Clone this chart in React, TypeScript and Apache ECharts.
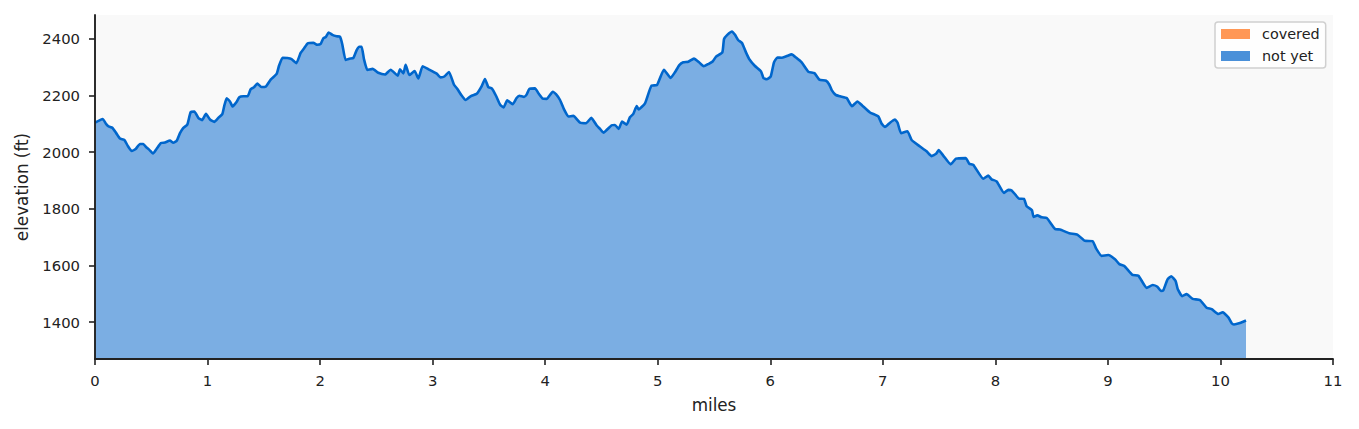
import { useEffect, useRef } from 'react'
import * as echarts from 'echarts'

const miles = [
  0, 0.068, 0.098, 0.121, 0.154, 0.187, 0.222, 0.261, 0.29, 0.326, 0.361, 0.4, 0.429, 0.453, 0.483, 0.515,
  0.548, 0.586, 0.622, 0.666, 0.696, 0.726, 0.755, 0.785, 0.82, 0.85, 0.883, 0.918, 0.951, 0.986, 1.022, 1.06,
  1.096, 1.131, 1.149, 1.17, 1.199, 1.223, 1.259, 1.282, 1.318, 1.356, 1.383, 1.413, 1.442, 1.478, 1.519, 1.561,
  1.614, 1.635, 1.667, 1.709, 1.747, 1.789, 1.827, 1.857, 1.89, 1.94, 1.975, 2.005, 2.029, 2.052, 2.076, 2.109,
  2.147, 2.177, 2.197, 2.227, 2.26, 2.295, 2.325, 2.349, 2.369, 2.39, 2.42, 2.467, 2.517, 2.577, 2.627, 2.689,
  2.71, 2.74, 2.76, 2.793, 2.84, 2.873, 2.911, 2.961, 3.036, 3.07, 3.104, 3.145, 3.19, 3.22, 3.252, 3.293,
  3.34, 3.392, 3.436, 3.465, 3.495, 3.525, 3.563, 3.6, 3.63, 3.663, 3.711, 3.746, 3.77, 3.812, 3.835, 3.859,
  3.909, 3.945, 3.978, 4.013, 4.067, 4.096, 4.132, 4.17, 4.206, 4.25, 4.31, 4.363, 4.41, 4.458, 4.487, 4.517,
  4.591, 4.62, 4.653, 4.683, 4.724, 4.753, 4.783, 4.813, 4.83, 4.887, 4.946, 4.991, 5.055, 5.115, 5.153, 5.192,
  5.227, 5.272, 5.322, 5.367, 5.408, 5.45, 5.488, 5.518, 5.574, 5.589, 5.618, 5.66, 5.687, 5.716, 5.749, 5.784,
  5.814, 5.864, 5.918, 5.939, 5.968, 6.004, 6.033, 6.063, 6.101, 6.146, 6.19, 6.229, 6.279, 6.338, 6.392, 6.436,
  6.496, 6.525, 6.546, 6.581, 6.62, 6.679, 6.726, 6.774, 6.818, 6.886, 6.96, 6.99, 7.019, 7.064, 7.108, 7.132,
  7.162, 7.218, 7.256, 7.33, 7.389, 7.434, 7.473, 7.496, 7.537, 7.603, 7.65, 7.736, 7.768, 7.804, 7.893, 7.937,
  7.967, 8.011, 8.077, 8.115, 8.145, 8.21, 8.254, 8.278, 8.325, 8.34, 8.373, 8.411, 8.456, 8.53, 8.574, 8.657,
  8.728, 8.796, 8.864, 8.894, 8.944, 9.004, 9.063, 9.102, 9.146, 9.217, 9.271, 9.345, 9.398, 9.44, 9.471, 9.492,
  9.53, 9.563, 9.602, 9.62, 9.66, 9.699, 9.753, 9.818, 9.877, 9.922, 9.981, 10.019, 10.07, 10.1, 10.12, 10.173,
  10.227,
]

const elevation = [
  2104, 2117, 2100, 2091, 2086, 2068, 2048, 2043, 2023, 2004, 2011, 2029, 2029, 2018, 2008, 1995,
  2012, 2032, 2034, 2041, 2033, 2040, 2067, 2086, 2097, 2141, 2143, 2121, 2113, 2135, 2115, 2107,
  2121, 2134, 2164, 2190, 2179, 2161, 2178, 2194, 2197, 2197, 2222, 2229, 2242, 2230, 2232, 2256,
  2276, 2305, 2333, 2332, 2328, 2314, 2350, 2366, 2384, 2386, 2379, 2382, 2402, 2407, 2422, 2414,
  2409, 2407, 2381, 2325, 2330, 2332, 2360, 2372, 2372, 2328, 2290, 2294, 2280, 2274, 2291, 2270,
  2292, 2278, 2308, 2272, 2286, 2260, 2303, 2293, 2277, 2264, 2267, 2283, 2238, 2223, 2203, 2184,
  2198, 2206, 2233, 2258, 2229, 2225, 2199, 2167, 2158, 2183, 2169, 2191, 2199, 2195, 2203, 2223,
  2225, 2205, 2189, 2188, 2213, 2205, 2184, 2149, 2126, 2128, 2104, 2102, 2121, 2094, 2082, 2069,
  2095, 2096, 2082, 2108, 2097, 2123, 2135, 2163, 2151, 2172, 2235, 2236, 2291, 2262, 2282, 2307,
  2317, 2319, 2330, 2317, 2303, 2311, 2320, 2337, 2352, 2399, 2414, 2426, 2414, 2395, 2385, 2352,
  2328, 2304, 2285, 2262, 2257, 2267, 2317, 2334, 2333, 2339, 2345, 2334, 2317, 2284, 2279, 2256,
  2252, 2238, 2219, 2202, 2197, 2191, 2162, 2179, 2164, 2140, 2126, 2100, 2089, 2104, 2115, 2103,
  2067, 2074, 2043, 2020, 2003, 1986, 1994, 2007, 1988, 1957, 1977, 1979, 1959, 1955, 1906, 1917,
  1904, 1897, 1856, 1867, 1865, 1836, 1835, 1809, 1795, 1771, 1777, 1770, 1768, 1729, 1727, 1714,
  1709, 1687, 1686, 1661, 1634, 1637, 1622, 1605, 1598, 1567, 1564, 1521, 1531, 1525, 1510, 1512,
  1551, 1562, 1545, 1517, 1492, 1499, 1482, 1478, 1451, 1446, 1429, 1435, 1417, 1396, 1392, 1397,
  1406,
]

const xTicks = [0, 1, 2, 3, 4, 5, 6, 7, 8, 9, 10, 11]
const yTicks = [1400, 1600, 1800, 2000, 2200, 2400]

const ink = '#222222'
const font = 'DejaVu Sans'

export default function App() {
  const ref = useRef<HTMLDivElement>(null)

  useEffect(() => {
    document.body.style.margin = '0'
    const chart = echarts.init(ref.current, null, { renderer: 'svg' })
    chart.setOption({
      animation: false,
      grid: {
        left: 95,
        right: 26,
        top: 15,
        bottom: 70,
        show: true,
        backgroundColor: '#f9f9f9',
        borderWidth: 0,
      },
      legend: {
        left: 1215,
        top: 22,
        orient: 'vertical',
        padding: [5, 6, 5, 6],
        itemWidth: 29,
        itemHeight: 10,
        itemGap: 8,
        backgroundColor: 'rgba(255,255,255,0.8)',
        borderColor: '#d0d0d0',
        borderWidth: 1.5,
        borderRadius: 3,
        textStyle: { fontFamily: font, fontSize: 14.4, color: ink, padding: [0, 0, 0, 7] },
        data: [
          { name: 'covered', icon: 'rect', itemStyle: { color: '#ff8c42', opacity: 0.9 } },
          { name: 'not yet', icon: 'rect', itemStyle: { color: '#4a90d9' } },
        ],
      },
      xAxis: {
        type: 'value',
        z: 10,
        min: 0,
        max: 11,
        interval: 1,
        name: 'miles',
        nameLocation: 'middle',
        nameGap: 37,
        nameTextStyle: { fontFamily: font, fontSize: 16.8, color: ink },
        splitLine: { show: false },
        axisLine: { onZero: false, lineStyle: { color: ink, width: 1.9 } },
        axisTick: { length: 6, lineStyle: { color: ink, width: 1.6 }, customValues: xTicks },
        axisLabel: { fontFamily: font, fontSize: 14.8, color: ink, margin: 14, customValues: xTicks },
      },
      yAxis: {
        type: 'value',
        z: 10,
        min: 1270,
        max: 2484,
        name: 'elevation (ft)',
        nameLocation: 'middle',
        nameGap: 65,
        nameTextStyle: { fontFamily: font, fontSize: 16.8, color: ink },
        splitLine: { show: false },
        axisLine: { show: true, onZero: false, lineStyle: { color: ink, width: 1.9 } },
        axisTick: { show: true, length: 6, lineStyle: { color: ink, width: 1.6 }, customValues: yTicks },
        axisLabel: {
          fontFamily: font,
          fontSize: 14.8,
          color: ink,
          margin: 15,
          customValues: yTicks,
          formatter: (v: number) => String(v),
        },
      },
      series: [
        {
          name: 'covered',
          type: 'line',
          data: [],
          itemStyle: { color: '#ff8c42' },
        },
        {
          name: 'not yet',
          type: 'line',
          symbol: 'none',
          smooth: 0.15,
          data: miles.map((m, i) => [m, elevation[i]]),
          lineStyle: { color: '#0066cc', width: 2.6, join: 'round' },
          itemStyle: { color: '#4a90d9' },
          areaStyle: { color: '#4a90d9', opacity: 0.72, origin: 'start' },
        },
      ],
    })
    return () => chart.dispose()
  }, [])

  return <div ref={ref} style={{ width: 1359, height: 429 }} />
}
